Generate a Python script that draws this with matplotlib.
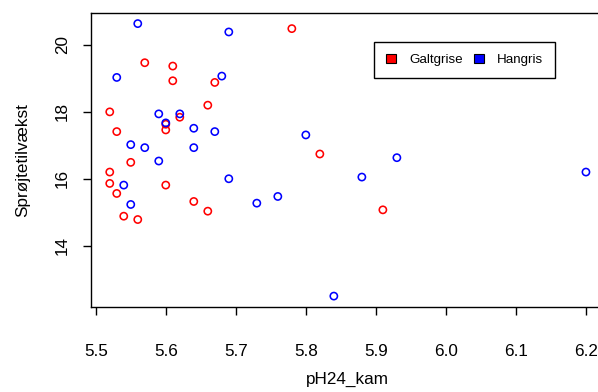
"""
Scatter of Sprøjtetilvækst against pH24_kam, split by sex (R base-graphics look).
"""

import matplotlib
matplotlib.use("Agg")
import matplotlib.pyplot as plt
import matplotlib.patches as mpatches

plt.rcParams["font.family"] = ["Liberation Sans", "DejaVu Sans"]

# ── Data ────────────────────────────────────────────────────────────────────
galt_ph = [5.78, 5.57, 5.61, 5.61, 5.67, 5.66, 5.52, 5.62, 5.60, 5.60, 5.53,
           5.82, 5.55, 5.52, 5.52, 5.60, 5.53, 5.64, 5.66, 5.91, 5.54, 5.56]
galt_vaekst = [20.49, 19.47, 19.37, 18.93, 18.88, 18.20, 18.00, 17.84, 17.63,
               17.46, 17.41, 16.74, 16.49, 16.20, 15.86, 15.81, 15.56, 15.32,
               15.03, 15.07, 14.88, 14.78]

hang_ph = [5.56, 5.69, 5.53, 5.68, 5.59, 5.62, 5.60, 5.64, 5.67, 5.80, 5.55,
           5.57, 5.64, 5.59, 5.69, 5.54, 5.55, 5.73, 5.76, 5.84, 5.88, 5.93,
           6.20]
hang_vaekst = [20.64, 20.39, 19.03, 19.07, 17.94, 17.94, 17.67, 17.51, 17.41,
               17.31, 17.02, 16.93, 16.93, 16.53, 16.00, 15.81, 15.23, 15.27,
               15.47, 12.49, 16.05, 16.63, 16.20]

groups = ["Galtgrise", "Hangris"]
xticks = [5.5, 5.6, 5.7, 5.8, 5.9, 6.0, 6.1, 6.2]
yticks = [14, 16, 18, 20]

RED, BLUE = "#ff0000", "#0000ff"

# ── Figure ──────────────────────────────────────────────────────────────────
fig = plt.figure(figsize=(5.98, 3.92), dpi=100)
ax = fig.add_axes([90.7 / 598, 85 / 392, 514.3 / 598, 294.3 / 392])

ax.scatter(galt_ph, galt_vaekst, s=27, facecolors="none", edgecolors=RED,
           linewidths=1.15)
ax.scatter(hang_ph, hang_vaekst, s=27, facecolors="none", edgecolors=BLUE,
           linewidths=1.15)

# R-style 4% padding around the data range
all_x = galt_ph + hang_ph
all_y = galt_vaekst + hang_vaekst
dx = (max(all_x) - min(all_x)) * 0.04
dy = (max(all_y) - min(all_y)) * 0.04
ax.set_xlim(min(all_x) - dx, max(all_x) + dx)
ax.set_ylim(min(all_y) - dy, max(all_y) + dy)

ax.set_xticks(xticks)
ax.set_xticklabels([f"{v:.1f}" for v in xticks])
ax.set_yticks(yticks)
ax.set_yticklabels([str(v) for v in yticks], rotation=90, va="center")

for sp in ax.spines.values():
    sp.set_linewidth(1.0)
    sp.set_color("black")

ax.tick_params(axis="both", direction="out", length=6, width=1.0,
               labelsize=12.3, colors="black")
ax.tick_params(axis="x", pad=21)
ax.tick_params(axis="y", pad=9)

ax.set_xlabel("pH24_kam", fontsize=12.3, labelpad=9)
ax.set_ylabel("Sprøjtetilvækst", fontsize=12.3, labelpad=18)

# ── Legend ──────────────────────────────────────────────────────────────────
handles = [
    mpatches.Patch(facecolor=RED, edgecolor="black", linewidth=0.8, label=groups[0]),
    mpatches.Patch(facecolor=BLUE, edgecolor="black", linewidth=0.8, label=groups[1]),
]
leg = ax.legend(handles=handles, ncol=2, fontsize=9.6,
                loc="upper left", bbox_to_anchor=(373.7 / 598, 1 - 42 / 392),
                bbox_transform=fig.transFigure, borderaxespad=0,
                fancybox=False, framealpha=1, edgecolor="black",
                handlelength=0.75, handleheight=0.6, handletextpad=1.0,
                columnspacing=0.85, borderpad=0.9)
leg.get_frame().set_linewidth(1.0)

fig.savefig("out.png", dpi=100)
